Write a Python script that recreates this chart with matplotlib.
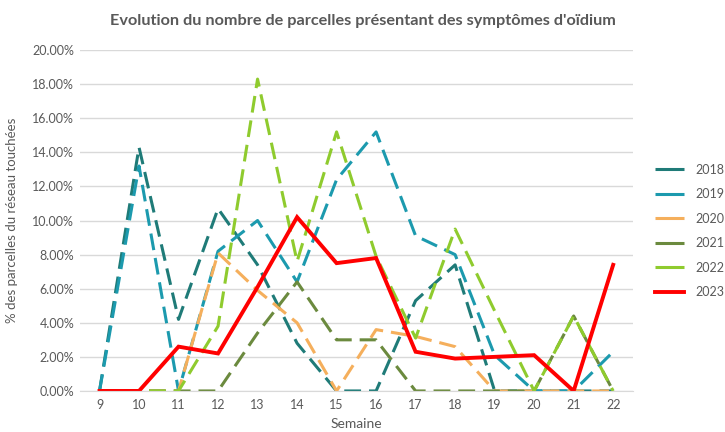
import matplotlib
matplotlib.use("Agg")
import matplotlib.pyplot as plt
from matplotlib.ticker import FuncFormatter

plt.rcParams['font.family'] = ['Lato', 'DejaVu Sans']

weeks = [9, 10, 11, 12, 13, 14, 15, 16, 17, 18, 19, 20, 21, 22]
s2018 = [0.0, 14.3, 4.2, 10.7, 7.4, 2.8, 0.0, 0.0, 5.3, 7.4, 0.0, 0.0, 0.0, 0.0]
s2019 = [0.0, 13.2, 0.0, 8.2, 10.0, 6.4, 12.4, 15.2, 9.1, 8.0, 2.1, 0.0, 0.0, 2.3]
s2020 = [0.0, 0.0, 0.0, 8.1, 5.9, 4.0, 0.0, 3.6, 3.2, 2.6, 0.0, 0.0, 0.0, 0.0]
s2021 = [0.0, 0.0, 0.0, 0.0, 3.4, 6.4, 3.0, 3.0, 0.0, 0.0, 0.0, 0.0, 4.4, 0.0]
s2022 = [0.0, 0.0, 0.0, 3.8, 18.3, 7.6, 15.2, 7.9, 3.1, 9.5, 4.7, 0.0, 4.4, 0.0]
s2023 = [0.0, 0.0, 2.6, 2.2, 6.1, 10.2, 7.5, 7.8, 2.3, 1.9, 2.0, 2.1, 0.0, 7.4]

series = [
    ("2018", s2018, "#1F7B78", True),
    ("2019", s2019, "#1C9AAE", True),
    ("2020", s2020, "#F5AF5C", True),
    ("2021", s2021, "#6B8A3E", True),
    ("2022", s2022, "#8FCB2E", True),
    ("2023", s2023, "#FF0000", False),
]

fig = plt.figure(figsize=(7.25, 4.32), dpi=100)
ax = fig.add_axes([0.110, 0.095, 0.763, 0.789])

for label, vals, color, dashed in series:
    if dashed:
        ax.plot(weeks, vals, color=color, lw=2.2, dashes=(5.5, 2.6),
                solid_capstyle='butt', dash_capstyle='butt', label=label)
    else:
        ax.plot(weeks, vals, color=color, lw=2.8, label=label,
                solid_joinstyle='miter')

ax.set_xlim(8.5, 22.5)
ax.set_ylim(0, 20)
ax.set_yticks([i * 2 for i in range(11)])
ax.yaxis.set_major_formatter(FuncFormatter(lambda v, p: f"{v:.2f}%"))
ax.set_xticks(weeks)
ax.grid(axis='y', color='#D9D9D9', lw=1)
ax.set_axisbelow(True)
for sp in ['top', 'right', 'left']:
    ax.spines[sp].set_visible(False)
ax.spines['bottom'].set_color('#D9D9D9')
ax.tick_params(axis='both', length=0, colors='#595959', labelsize=9)
ax.tick_params(axis='x', pad=6)
ax.tick_params(axis='y', pad=4)

ax.set_ylabel("% des parcelles du réseau touchées", color='#595959', fontsize=9.5, labelpad=10)
ax.set_xlabel("Semaine", color='#595959', fontsize=10, labelpad=5)

fig.text(0.5, 0.952, "Evolution du nombre de parcelles présentant des symptômes d'oïdium",
         ha='center', va='center', fontsize=11.7, color='#595959', fontweight='bold')

leg = ax.legend(loc='center left', bbox_to_anchor=(1.02, 0.47), frameon=False,
                fontsize=9, handlelength=2.3, labelspacing=1.0, handletextpad=0.9)
for t in leg.get_texts():
    t.set_color('#595959')
for h in leg.get_lines():
    h.set_linestyle('-')

fig.savefig("out.png", dpi=100)
